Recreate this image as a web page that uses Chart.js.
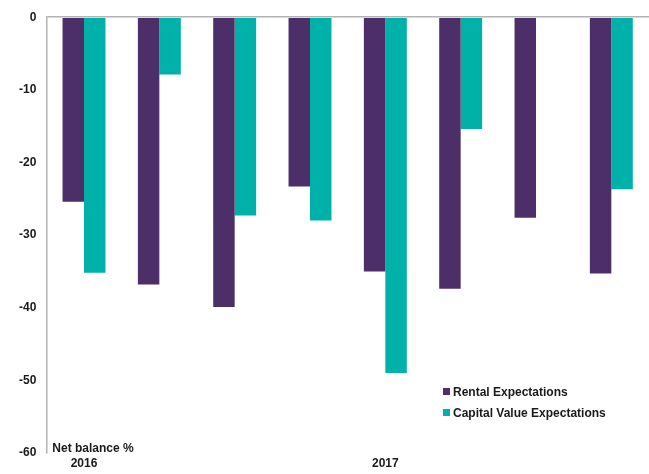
<!DOCTYPE html>
<html>
<head>
<meta charset="utf-8">
<script src="https://cdn.jsdelivr.net/npm/chart.js@4.4.1/dist/chart.umd.min.js"></script>
<style>
  body { margin: 0; background: #fff; }
  #wrap { position: relative; width: 649px; height: 474px; }
  .legend { position: absolute; left: 443px; top: 383px; font: bold 12px "Liberation Sans", Arial, sans-serif; color: #1a1a1a; }
  .legend div { height: 21px; line-height: 18px; white-space: nowrap; }
  .legend span { display: inline-block; width: 7px; height: 7px; margin-right: 3px; vertical-align: 1px; }
</style>
</head>
<body>
<div id="wrap">
  <canvas id="balanceChart"></canvas>
  <div class="legend" id="legend"></div>
</div>
<script>
const labels = ["2016", "", "", "", "2017", "", "", ""];
const rental = [-25.4, -36.8, -39.9, -23.3, -35.0, -37.4, -27.6, -35.3];
const capitalValue = [-35.2, -7.9, -27.3, -28.0, -49.0, -15.4, null, -23.7];
const seriesNames = ["Rental Expectations", "Capital Value Expectations"];
const seriesColors = ["#4c2f68", "#00b1a9"];

const font = { family: "'Liberation Sans', Arial, sans-serif", weight: "bold", size: 12 };

// "Net balance %" sits inside the plot, bottom left
const axisNote = {
  id: "axisNote",
  afterDraw(chart) {
    const c = chart.ctx;
    const area = chart.chartArea;
    c.save();
    c.font = "bold 12px 'Liberation Sans', Arial, sans-serif";
    c.fillStyle = "#1a1a1a";
    c.textBaseline = "alphabetic";
    c.fillText("Net balance %", area.left + 6, area.bottom - 1);
    c.restore();
  },
};

const chart = new Chart(document.getElementById("balanceChart"), {
  type: "bar",
  data: {
    labels: labels,
    datasets: [
      { label: seriesNames[0], data: rental, backgroundColor: seriesColors[0] },
      { label: seriesNames[1], data: capitalValue, backgroundColor: seriesColors[1] },
    ],
  },
  options: {
    responsive: true,
    maintainAspectRatio: false,
    animation: false,
    layout: { padding: { top: 13, right: 0, left: 9, bottom: 0 } },
    datasets: { bar: { categoryPercentage: 0.57, barPercentage: 1 } },
    plugins: { legend: { display: false }, tooltip: { enabled: false } },
    scales: {
      x: {
        grid: { display: false },
        border: { display: false },
        ticks: { color: "#1a1a1a", font: font, autoSkip: false, maxRotation: 0, padding: -5 },
        afterFit: (scale) => { scale.height = 21; },
      },
      y: {
        min: -60,
        max: 0,
        ticks: { stepSize: 10, color: "#1a1a1a", font: font, padding: 10 },
        border: { display: true, color: "#b3b3b3", width: 1.5 },
        grid: {
          drawTicks: false,
          lineWidth: 1.5,
          color: (ctx) => (ctx.tick && ctx.tick.value === 0 ? "#b3b3b3" : "rgba(0,0,0,0)"),
        },
      },
    },
  },
  plugins: [axisNote],
});

// legend boxes inside the plot area
const legendEl = document.getElementById("legend");
chart.data.datasets.forEach((ds) => {
  const row = document.createElement("div");
  row.innerHTML = '<span style="background:' + ds.backgroundColor + '"></span>' + ds.label;
  legendEl.appendChild(row);
});
</script>
</body>
</html>
